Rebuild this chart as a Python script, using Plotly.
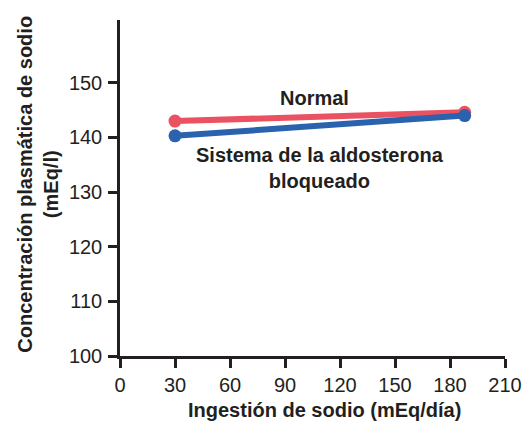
import plotly.graph_objects as go

x_ingestion = [30, 188]
normal = [143.0, 144.6]
bloqueado = [140.3, 144.0]
x_ticks = [0, 30, 60, 90, 120, 150, 180, 210]
y_ticks = [100, 110, 120, 130, 140, 150]

RED = "#ea5262"
BLUE = "#2a62ae"
INK = "#231f20"
FONT = "Liberation Sans, Arial, Helvetica, sans-serif"

fig = go.Figure()
fig.add_trace(go.Scatter(x=x_ingestion, y=normal, mode="lines+markers",
                         line=dict(color=RED, width=6), marker=dict(color=RED, size=13),
                         cliponaxis=False, showlegend=False))
fig.add_trace(go.Scatter(x=x_ingestion, y=bloqueado, mode="lines+markers",
                         line=dict(color=BLUE, width=6), marker=dict(color=BLUE, size=13),
                         cliponaxis=False, showlegend=False))

axis_common = dict(showgrid=False, zeroline=False, showline=True, linecolor=INK,
                   linewidth=2.5, ticks="outside", ticklen=9, tickwidth=2.5,
                   tickcolor=INK, fixedrange=True, automargin=False,
                   tickfont=dict(size=20, color=INK))

fig.update_layout(
    width=527, height=422,
    margin=dict(l=120, r=22, t=20, b=66),
    paper_bgcolor="white", plot_bgcolor="white",
    font=dict(family=FONT, color=INK, size=20),
    xaxis=dict(range=[0, 210], tickvals=x_ticks, **axis_common),
    yaxis=dict(range=[100, 161.5], tickvals=y_ticks, ticklabelstandoff=2, **axis_common),
    annotations=[
        dict(text="<b>Normal</b>", x=106, y=147.2, xref="x", yref="y", showarrow=False,
             font=dict(size=20, color=INK)),
        dict(text="<b>Sistema de la aldosterona<br>bloqueado</b>", x=109, y=134.5,
             xref="x", yref="y", showarrow=False, font=dict(size=20, color=INK)),
        dict(text="<b>Ingestión de sodio (mEq/día)</b>", x=0.53, y=0, xref="paper",
             yref="paper", yanchor="middle", yshift=-54, showarrow=False,
             font=dict(size=20, color=INK)),
        dict(text="<b>Concentración plasmática de sodio<br>(mEq/l)</b>", x=0, y=0.51,
             xref="paper", yref="paper", xanchor="center", xshift=-82, textangle=-90,
             showarrow=False, font=dict(size=20, color=INK)),
    ],
)

fig.write_html("out.html", config={"displayModeBar": False},
               post_script="document.body.style.margin='0';document.body.style.overflow='hidden';")
